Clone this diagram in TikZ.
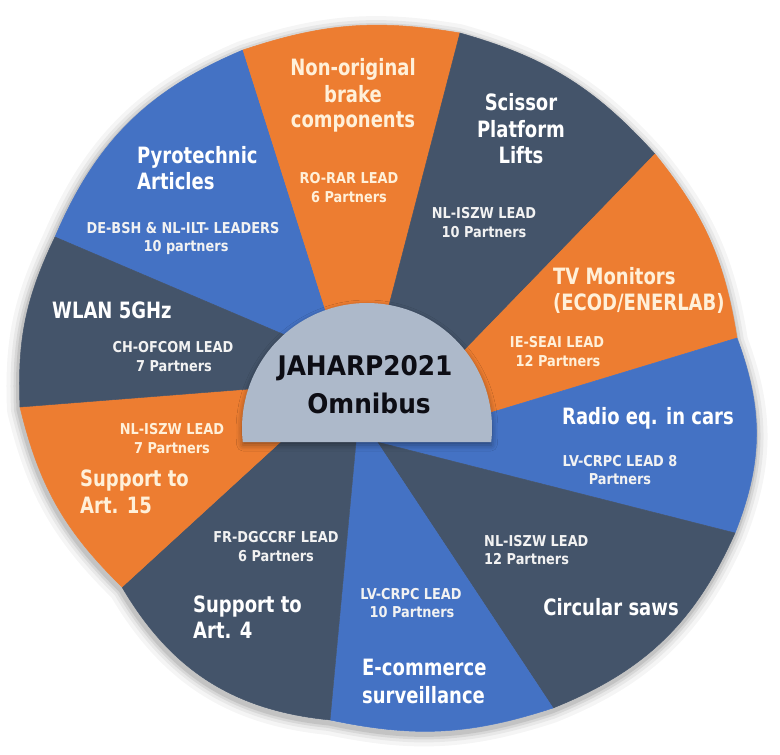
\documentclass[tikz,border=0pt]{standalone}
\usepackage{fontspec}
\setmainfont{DejaVu Sans}
\newfontfamily\ttlfont[FakeStretch=0.8]{DejaVu Sans}
\newfontfamily\smlfont[FakeStretch=0.86]{DejaVu Sans}
\newfontfamily\ctrfont[FakeStretch=0.92]{DejaVu Sans}
\usetikzlibrary{shadows.blur}
\definecolor{cblue}{HTML}{4472C4}
\definecolor{corange}{HTML}{ED7D31}
\definecolor{cdark}{HTML}{44546A}
\definecolor{cgray}{HTML}{ADB9CA}
\definecolor{ccream}{HTML}{FFF0D9}
\definecolor{csmall}{HTML}{F2F2F2}
\definecolor{cink}{HTML}{0D0D14}
\begin{document}
\begin{tikzpicture}[x=1pt,y=1pt,
  wedge/.style={fill=#1, draw=#1, line width=0.5pt, line join=round},
  ttl/.style={font=\ttlfont\bfseries\fontsize{22.5}{27}\selectfont, inner sep=0pt, text=white},
  sml/.style={font=\smlfont\bfseries\fontsize{15}{19}\selectfont, inner sep=0pt, text=csmall},
  ctr/.style={font=\ctrfont\bfseries\fontsize{27}{33}\selectfont, inner sep=0pt, text=cink},
  oc/.style={text=ccream},
  pieoutline/.style={insert path={(c1) to[bend left=14] (c2) to[bend left=16] (c3) to[bend left=15] (c4)
    to[bend left=21] (c5) to[bend left=22] (c6) to[bend left=15] (c7)
    to[bend left=27] (c8) to[bend left=16] (c9) to[bend left=14] (c10)
    to[bend left=22] (c1) -- cycle}}]
\useasboundingbox (0,0) rectangle (780,-755);
\fill[white] (0,0) rectangle (780,-755);
% hub and boundary points
\coordinate (H) at (367,-400);
\coordinate (c1) at (243,-50);
\coordinate (c2) at (460,-33);
\coordinate (c3) at (655,-154);
\coordinate (c4) at (737,-338);
\coordinate (c5) at (735,-533);
\coordinate (c6) at (553,-708);
\coordinate (c7) at (330,-720);
\coordinate (c8) at (122,-587);
\coordinate (c9) at (20,-407);
\coordinate (c10) at (55,-237);
\coordinate (d1) at (335,-340);
\coordinate (d2) at (380,-340);
\coordinate (d3) at (430,-386);
\coordinate (d4) at (440,-428);
\coordinate (d5) at (377,-442);
\coordinate (d7) at (357.6,-425);
\coordinate (d8) at (300,-424);
\coordinate (d9) at (300,-385);
\coordinate (d10) at (320,-350);
% soft glow around the pie
\begin{scope}[transform canvas={xshift=-1pt, yshift=-3pt}]
\foreach \w/\o in {24/0.04, 16/0.05, 10/0.07, 5/0.09}
  \draw[black, opacity=\o, line width=\w pt, line join=round, pieoutline];
\end{scope}
% wedges
\path[wedge=cblue] (d10) -- (c10) to[bend left=22] (c1) -- (d1) -- (H) -- cycle;
\path[wedge=corange] (d1) -- (c1) to[bend left=14] (c2) -- (d2) -- (H) -- cycle;
\path[wedge=cdark] (d2) -- (c2) to[bend left=16] (c3) -- (d3) -- (H) -- cycle;
\path[wedge=corange] (d3) -- (c3) to[bend left=15] (c4) -- (d4) -- (H) -- cycle;
\path[wedge=cblue] (d4) -- (c4) to[bend left=21] (c5) -- (d5) -- (H) -- cycle;
\path[wedge=cdark] (d5) -- (c5) to[bend left=22] (c6) -- cycle;
\path[wedge=cblue] (d5) -- (c6) to[bend left=15] (c7) -- (d7) -- (H) -- cycle;
\path[wedge=cdark] (d7) -- (c7) to[bend left=27] (c8) -- (d8) -- (H) -- cycle;
\path[wedge=corange] (d8) -- (c8) to[bend left=16] (c9) -- (d9) -- (H) -- cycle;
\path[wedge=cdark] (d9) -- (c9) to[bend left=14] (c10) -- (d10) -- (H) -- cycle;
% central half disc
\path[fill=cgray, blur shadow={shadow xshift=0pt, shadow yshift=-3pt, shadow blur radius=6pt, shadow opacity=40}]
  (491.2,-442) arc[start angle=-6.43, end angle=186.43, radius=125] -- cycle;
\node[ctr, anchor=base] (ctr1) at (365,-375) {JAHARP2021};
\node[ctr, anchor=base] (ctr2) at (369,-413) {Omnibus};
% Pyrotechnic
\node[ttl, anchor=base west] (py1) at (137,-163) {Pyrotechnic};
\node[ttl, anchor=base west] (py2) at (137,-189) {Articles};
\node[sml, anchor=base] (py3) at (183,-233) {DE-BSH \& NL-ILT- LEADERS};
\node[sml, anchor=base] (py4) at (186,-251) {10 partners};
% Non-original
\node[ttl, oc, anchor=base] (no1) at (353,-75) {Non-original};
\node[ttl, oc, anchor=base] (no2) at (353,-102) {brake};
\node[ttl, oc, anchor=base] (no3) at (353,-127) {components};
\node[sml, oc, anchor=base] (no4) at (349,-183) {RO-RAR LEAD};
\node[sml, oc, anchor=base] (no5) at (349,-202) {6 Partners};
% Scissor
\node[ttl, anchor=base] (sc1) at (521,-110) {Scissor};
\node[ttl, anchor=base] (sc2) at (521,-137) {Platform};
\node[ttl, anchor=base] (sc3) at (521,-163) {Lifts};
\node[sml, anchor=base] (sc4) at (484,-218) {NL-ISZW LEAD};
\node[sml, anchor=base] (sc5) at (484,-237) {10 Partners};
% TV
\node[ttl, oc, anchor=base west] (tv1) at (553,-284) {TV Monitors};
\node[ttl, oc, anchor=base west] (tv2) at (553,-310) {(ECOD/ENERLAB)};
\node[sml, oc, anchor=base] (tv3) at (557,-347) {IE-SEAI LEAD};
\node[sml, oc, anchor=base] (tv4) at (558,-366) {12 Partners};
% Radio
\node[ttl, anchor=base] (ra1) at (648,-424) {Radio eq. in cars};
\node[sml, anchor=base] (ra2) at (620,-466) {LV-CRPC LEAD 8};
\node[sml, anchor=base] (ra3) at (620,-484) {Partners};
% Circular saws
\node[sml, anchor=base west] (cs1) at (484,-546) {NL-ISZW LEAD};
\node[sml, anchor=base west] (cs2) at (484,-564) {12 Partners};
\node[ttl, anchor=base] (cs3) at (611,-615) {Circular saws};
% E-commerce
\node[sml, anchor=base] (ec1) at (411,-599) {LV-CRPC LEAD};
\node[sml, anchor=base] (ec2) at (412,-617) {10 Partners};
\node[ttl, anchor=base west] (ec3) at (362,-675) {E-commerce};
\node[ttl, anchor=base west] (ec4) at (362,-703) {surveillance};
% Support to Art. 4
\node[sml, anchor=base] (s41) at (276,-542) {FR-DGCCRF LEAD};
\node[sml, anchor=base] (s42) at (276,-561) {6 Partners};
\node[ttl, anchor=base west] (s43) at (193,-612) {Support to};
\node[ttl, anchor=base west] (s44) at (193,-638) {Art. 4};
% Support to Art. 15
\node[sml, oc, anchor=base] (s151) at (172,-434) {NL-ISZW LEAD};
\node[sml, oc, anchor=base] (s152) at (172,-453) {7 Partners};
\node[ttl, oc, anchor=base west] (s153) at (80,-486) {Support to};
\node[ttl, oc, anchor=base west] (s154) at (80,-513) {Art. 15};
% WLAN
\node[ttl, anchor=base west] (wl1) at (52,-318) {WLAN 5GHz};
\node[sml, anchor=base] (wl2) at (173,-352) {CH-OFCOM LEAD};
\node[sml, anchor=base] (wl3) at (174,-371) {7 Partners};
\end{tikzpicture}
\end{document}
